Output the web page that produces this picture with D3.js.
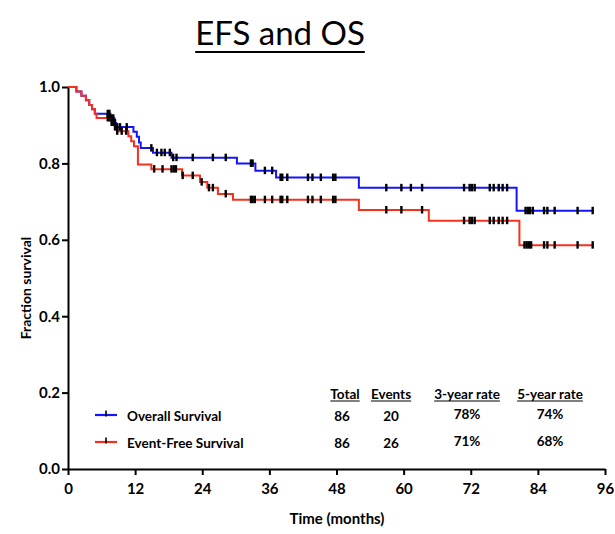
<!DOCTYPE html>
<html>
<head>
<meta charset="utf-8">
<script src="https://cdn.jsdelivr.net/npm/d3@7"></script>
<style>
  body { margin: 0; background: #fff; }
  svg { display: block; }
  text { font-family: Lato, "Open Sans", "DejaVu Sans", sans-serif; fill: #000; }
</style>
</head>
<body>
<svg id="chart" width="615" height="534"></svg>
<script>
// Kaplan-Meier step points: time (months) at which survival drops, and the level after the drop
const osTimes = [0, 1.5, 2.4, 3.2, 3.8, 4.3, 4.8, 7.6, 8.3, 8.6, 11.7, 12.3, 12.7, 13.0, 15.2, 18.5, 30.2, 33.5, 37.2, 52.0, 80.2];
const osSurv  = [1, 0.988, 0.977, 0.965, 0.953, 0.942, 0.930, 0.918, 0.906, 0.895, 0.883, 0.870, 0.855, 0.840, 0.828, 0.815, 0.800, 0.781, 0.763, 0.736, 0.676];
const osEnd = 93.8;
const osCensor = [7.1, 7.4, 7.8, 8.1, 8.4, 8.8, 9.3, 10.5, 14.9, 15.9, 16.7, 17.3, 18.2, 18.8, 19.4, 22.3, 25.9, 28.2,
  32.7, 33.0, 35.2, 36.5, 38.0, 38.3, 39.2, 42.9, 43.7, 45.2, 47.4, 47.8, 56.9, 59.6, 61.3, 63.3,
  70.8, 71.8, 72.2, 72.7, 75.4, 76.1, 77.0, 77.7, 78.5, 81.8, 82.2, 82.6, 83.1, 85.1, 85.7, 87.0, 91.1, 93.8];

const efsTimes = [0, 1.5, 2.4, 3.2, 3.8, 4.3, 4.8, 5.1, 7.8, 8.4, 8.8, 10.8, 11.3, 11.8, 12.5, 14.9, 20.4, 23.6, 24.9, 26.8, 29.5, 52.0, 64.5, 80.7];
const efsSurv  = [1, 0.988, 0.977, 0.965, 0.953, 0.942, 0.930, 0.919, 0.907, 0.895, 0.884, 0.871, 0.858, 0.845, 0.797, 0.785, 0.768, 0.751, 0.736, 0.720, 0.705, 0.678, 0.650, 0.586];
const efsEnd = 93.8;
const efsCensor = [7.1, 7.4, 7.8, 8.1, 8.4, 8.8, 9.6, 10.4, 15.4, 16.9, 18.5, 18.9, 19.3, 20.5, 22.3, 23.9, 25.2, 25.9, 28.2,
  32.7, 33.0, 33.4, 35.2, 36.5, 38.0, 38.3, 39.2, 42.9, 43.7, 45.2, 47.4, 47.8, 56.9, 59.6, 63.3,
  70.8, 71.8, 72.2, 72.7, 75.4, 76.1, 77.0, 77.7, 78.5, 81.6, 82.0, 82.4, 82.8, 85.1, 85.7, 87.0, 91.1, 93.8];

const xTicks = [0, 12, 24, 36, 48, 60, 72, 84, 96];
const yTicks = [0, 0.2, 0.4, 0.6, 0.8, 1.0];

// Summary table
const tableHeaders = ["Total", "Events", "3-year rate", "5-year rate"];
const seriesNames = ["Overall Survival", "Event-Free Survival"];
const seriesTotals = [86, 86];
const seriesEvents = [20, 26];
const rate3yr = ["78%", "71%"];
const rate5yr = ["74%", "68%"];

const BLUE = "#1414ff", RED = "#f5301f";

const svg = d3.select("#chart");
const x = d3.scaleLinear().domain([0, 96]).range([68, 605]);
const y = d3.scaleLinear().domain([0, 1]).range([469, 87]);

// Title
const title = svg.append("text")
  .attr("x", 280).attr("y", 45)
  .attr("text-anchor", "middle")
  .style("font-size", "33px")
  .text("EFS and OS");
const tb = title.node().getBBox();
svg.append("line")
  .attr("x1", tb.x).attr("x2", tb.x + tb.width)
  .attr("y1", 52).attr("y2", 52)
  .attr("stroke", "#000").attr("stroke-width", 2);

// Axes
const xAxis = svg.append("g")
  .attr("transform", `translate(0,${y(0)})`)
  .call(d3.axisBottom(x).tickValues(xTicks).tickSize(6).tickSizeOuter(0).tickPadding(8));
const yAxis = svg.append("g")
  .attr("transform", `translate(${x(0)},0)`)
  .call(d3.axisLeft(y).tickValues(yTicks).tickFormat(d3.format(".1f")).tickSize(6).tickSizeOuter(0).tickPadding(2));
[xAxis, yAxis].forEach(g => {
  g.selectAll("path, line").attr("stroke", "#000").attr("stroke-width", 2);
  g.selectAll("text").style("font-size", "15px").style("font-weight", "bold")
    .style("font-family", "Lato, 'Open Sans', sans-serif").attr("fill", "#000");
});

svg.append("text")
  .attr("transform", `translate(31,${(y(0) + y(1)) / 2 + 10}) rotate(-90)`)
  .attr("text-anchor", "middle")
  .style("font-size", "14px").style("font-weight", "bold")
  .text("Fraction survival");

svg.append("text")
  .attr("x", 337).attr("y", 524)
  .attr("text-anchor", "middle")
  .style("font-size", "15px").style("font-weight", "bold")
  .text("Time (months)");

// Survival curves
function stepPoints(times, surv, end) {
  const pts = times.map((t, i) => [t, surv[i]]);
  pts.push([end, surv[surv.length - 1]]);
  return pts;
}
function levelAt(times, surv, t) {
  return surv[Math.max(0, d3.bisectRight(times, t) - 1)];
}
const line = d3.line().x(d => x(d[0])).y(d => y(d[1])).curve(d3.curveStepAfter);

const curves = [
  { times: osTimes, surv: osSurv, end: osEnd, censor: osCensor, color: BLUE },
  { times: efsTimes, surv: efsSurv, end: efsEnd, censor: efsCensor, color: RED }
];
curves.forEach(c => {
  svg.append("path")
    .datum(stepPoints(c.times, c.surv, c.end))
    .attr("fill", "none")
    .attr("stroke", c.color)
    .attr("stroke-width", 2)
    .attr("d", line);
});
// Censoring marks
curves.forEach(c => {
  svg.append("g").selectAll("line")
    .data(c.censor)
    .join("line")
    .attr("x1", d => x(d)).attr("x2", d => x(d))
    .attr("y1", d => y(levelAt(c.times, c.surv, d)) - 4)
    .attr("y2", d => y(levelAt(c.times, c.surv, d)) + 3.5)
    .attr("stroke", "#000").attr("stroke-width", 2.4);
});

// Legend with summary table
const colX = [345, 391, 467, 550];
const headerY = 399;
const rowY = [420.5, 447.5];
tableHeaders.forEach((h, i) => {
  const t = svg.append("text")
    .attr("x", colX[i]).attr("y", headerY)
    .attr("text-anchor", "middle")
    .style("font-size", "13.5px").style("font-weight", "bold")
    .text(h);
  const b = t.node().getBBox();
  svg.append("line")
    .attr("x1", b.x).attr("x2", b.x + b.width)
    .attr("y1", headerY + 2).attr("y2", headerY + 2)
    .attr("stroke", "#000").attr("stroke-width", 1);
});
seriesNames.forEach((name, i) => {
  const ly = rowY[i] - 5.5;
  const color = i === 0 ? BLUE : RED;
  svg.append("line")
    .attr("x1", 95).attr("x2", 117).attr("y1", ly).attr("y2", ly)
    .attr("stroke", color).attr("stroke-width", 2.2);
  svg.append("line")
    .attr("x1", 106).attr("x2", 106).attr("y1", ly - 4.5).attr("y2", ly + 1.5)
    .attr("stroke", "#000").attr("stroke-width", 1.6);
  svg.append("text")
    .attr("x", 127).attr("y", rowY[i])
    .style("font-size", "13.5px").style("font-weight", "bold")
    .text(name);
  [seriesTotals[i], seriesEvents[i], rate3yr[i], rate5yr[i]].forEach((v, j) => {
    svg.append("text")
      .attr("x", colX[j] - (j === 0 ? 3 : 0)).attr("y", rowY[i] - (j >= 2 ? 2 : 0))
      .attr("text-anchor", "middle")
      .style("font-size", "13.5px").style("font-weight", "bold")
      .text(v);
  });
});
</script>
</body>
</html>
